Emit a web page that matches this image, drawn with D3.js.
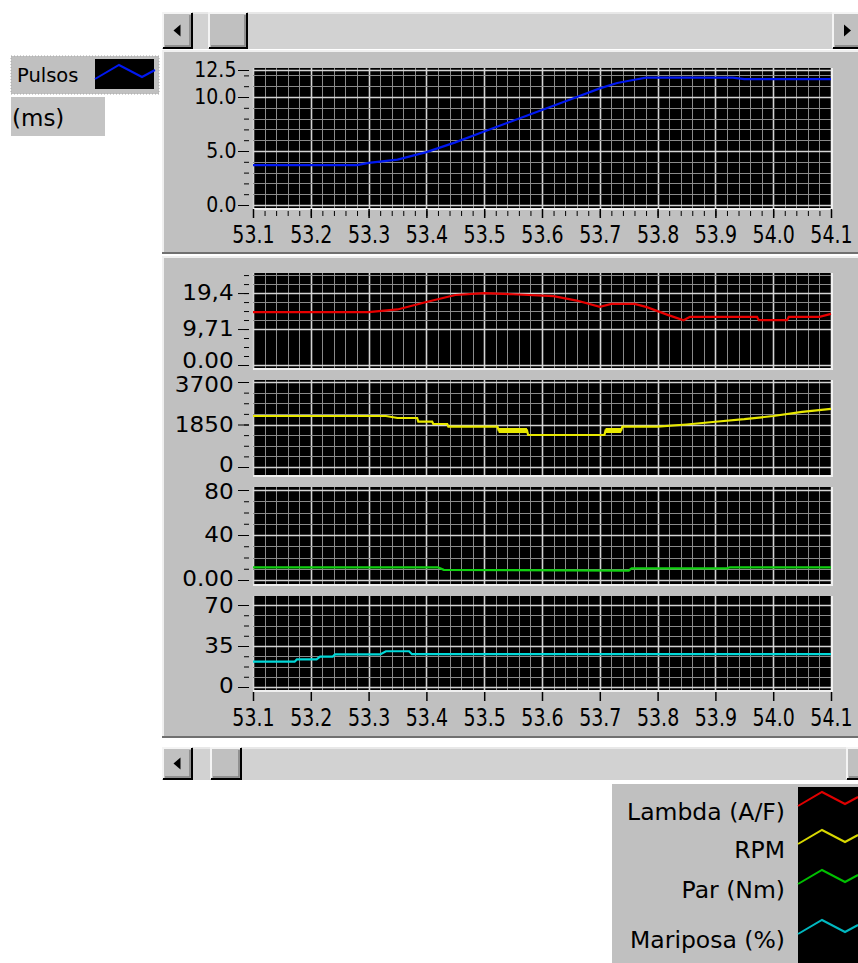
<!DOCTYPE html>
<html>
<head>
<meta charset="utf-8">
<script src="https://cdn.jsdelivr.net/npm/d3@7"></script>
<style>
  body { margin: 0; background: #fff; }
  svg { display: block; }
  text { font-family: "DejaVu Sans", sans-serif; fill: #000; }
</style>
</head>
<body>
<svg id="chart" width="858" height="963"></svg>
<script>
// ---- data ----
const timeTicks = [53.1, 53.2, 53.3, 53.4, 53.5, 53.6, 53.7, 53.8, 53.9, 54.0, 54.1];
const timeLabels = ["53.1", "53.2", "53.3", "53.4", "53.5", "53.6", "53.7", "53.8", "53.9", "54.0", "54.1"];

const pulsosTime = [53.10, 53.28, 53.30, 53.35, 53.40, 53.45, 53.50, 53.55, 53.60, 53.65, 53.70, 53.73, 53.76, 53.78, 53.93, 53.95, 54.10];
const pulsosValues = [3.7, 3.7, 3.9, 4.2, 4.9, 5.8, 6.8, 7.8, 8.8, 9.8, 10.8, 11.3, 11.6, 11.8, 11.8, 11.65, 11.65];
const pulsosTicks = [0, 5, 10, 12.5];
const pulsosLabels = ["0.0", "5.0", "10.0", "12.5"];

const lambdaTime = [53.10, 53.30, 53.35, 53.40, 53.45, 53.50, 53.55, 53.62, 53.66, 53.70, 53.72, 53.76, 53.78, 53.82, 53.845, 53.856, 53.972, 53.975, 54.024, 54.027, 54.08, 54.10];
const lambdaValues = [14.3, 14.3, 15.0, 17.0, 18.9, 19.4, 19.1, 18.6, 17.4, 15.7, 16.5, 16.5, 15.7, 13.4, 12.1, 13.0, 13.0, 12.1, 12.1, 13.0, 13.0, 13.8];
const lambdaTicks = [0, 9.71, 19.42];
const lambdaLabels = ["0.00", "9,71", "19,4"];

const rpmTime = [53.10, 53.33, 53.35, 53.384, 53.386, 53.41, 53.412, 53.436, 53.438, 53.523, 53.525, 53.574, 53.576, 53.708, 53.71, 53.737, 53.739, 53.80, 53.85, 53.90, 53.95, 54.00, 54.05, 54.10];
const rpmValues = [2220, 2220, 2133, 2133, 1972, 1972, 1872, 1872, 1754, 1754, 1590, 1590, 1393, 1393, 1590, 1590, 1754, 1754, 1850, 1970, 2080, 2220, 2400, 2530];
const rpmHeavy = [[53.525, 53.574, 1590], [53.71, 53.737, 1590]];
const rpmTicks = [0, 1850, 3700];
const rpmLabels = ["0", "1850", "3700"];

const parTime = [53.10, 53.42, 53.43, 53.75, 53.755, 53.92, 53.925, 54.10];
const parValues = [11.3, 11.3, 9.0, 8.4, 10.4, 10.4, 11.3, 11.3];
const parTicks = [0, 40, 80];
const parLabels = ["0.00", "40", "80"];

const mariposaTime = [53.10, 53.172, 53.176, 53.21, 53.216, 53.238, 53.242, 53.32, 53.33, 53.37, 53.375, 54.10];
const mariposaValues = [21.6, 21.6, 23.6, 23.6, 25.9, 25.9, 27.8, 27.8, 30.5, 30.5, 28.0, 28.0];
const mariposaTicks = [0, 35, 70];
const mariposaLabels = ["0", "35", "70"];

const legendNames = ["Lambda (A/F)", "RPM", "Par (Nm)", "Mariposa (%)"];
const legendColors = ["#e00000", "#d8d800", "#00c000", "#00b8c0"];

// ---- layout ----
const svg = d3.select('#chart');
const X0 = 253, X1 = 831;
const x = d3.scaleLinear().domain([53.1, 54.1]).range([X0, X1]);
const minorTimes = d3.range(0, 51).map(i => 53.1 + i * 0.02);

function button(g, bx, by, w, h, dir) {
    g.append('rect').attr('x', bx).attr('y', by).attr('width', w).attr('height', h).attr('fill', '#c0c0c0');
    g.append('path')
        .attr('d', `M${bx + 1},${by + h - 1}V${by + 1}H${bx + w - 1}`)
        .attr('stroke', '#f4f4f4').attr('stroke-width', 2).attr('fill', 'none');
    g.append('path')
        .attr('d', `M${bx + 1},${by + h - 1}H${bx + w - 1}V${by + 1}`)
        .attr('stroke', '#000').attr('stroke-width', 2).attr('fill', 'none');
    g.append('path')
        .attr('d', `M${bx + 3},${by + h - 3}H${bx + w - 3}V${by + 3}`)
        .attr('stroke', '#808080').attr('stroke-width', 1.5).attr('fill', 'none');
    if (dir) {
        let cx = bx + w / 2, cy = by + h / 2;
        let d = dir < 0
            ? `M${cx - 4},${cy}L${cx + 3},${cy - 6}V${cy + 6}Z`
            : `M${cx + 4},${cy}L${cx - 3},${cy - 6}V${cy + 6}Z`;
        g.append('path').attr('d', d).attr('fill', '#000');
    }
}

function scrollbar(sy, h, thumbX, thumbW, rightX) {
    let g = svg.append('g');
    g.append('rect').attr('x', 162).attr('y', sy).attr('width', 696).attr('height', h).attr('fill', '#d2d2d2');
    g.append('line').attr('x1', 162).attr('x2', 858).attr('y1', sy + 1).attr('y2', sy + 1)
        .attr('stroke', '#e8e8e8').attr('stroke-width', 2);
    button(g, 162, sy, 31, h, -1);
    button(g, thumbX, sy, thumbW, h, 0);
    button(g, rightX, sy, 30, h, 1);
}

function panel(py, h) {
    let g = svg.append('g');
    g.append('rect').attr('x', 162).attr('y', py).attr('width', 696).attr('height', h).attr('fill', '#c0c0c0');
    g.append('line').attr('x1', 163).attr('x2', 163).attr('y1', py).attr('y2', py + h)
        .attr('stroke', '#f0f0f0').attr('stroke-width', 2);
    g.append('line').attr('x1', 162).attr('x2', 858).attr('y1', py + 1).attr('y2', py + 1)
        .attr('stroke', '#f0f0f0').attr('stroke-width', 2);
    g.append('line').attr('x1', 162).attr('x2', 858).attr('y1', py + h - 1).attr('y2', py + h - 1)
        .attr('stroke', '#707070').attr('stroke-width', 2);
}

function drawPlot(p) {
    let g = svg.append('g');
    let y = d3.scaleLinear().domain(p.domain).range(p.range);

    g.append('rect')
        .attr('x', X0).attr('y', p.top)
        .attr('width', X1 - X0).attr('height', p.bottom - p.top)
        .attr('fill', '#000');

    // vertical grid, brighter every 0.1
    g.selectAll('line.vg')
        .data(minorTimes)
        .join('line')
            .attr('class', 'vg')
            .attr('x1', d => Math.round(x(d)) + 0.5)
            .attr('x2', d => Math.round(x(d)) + 0.5)
            .attr('y1', p.top).attr('y2', p.bottom)
            .attr('stroke', (d, i) => i % 5 === 0 ? '#d4d4d4' : '#8a8a8a')
            .attr('stroke-width', (d, i) => i % 5 === 0 ? 1.6 : 1);

    // horizontal grid
    g.selectAll('line.hg')
        .data(p.gridMinor)
        .join('line')
            .attr('class', 'hg')
            .attr('x1', X0).attr('x2', X1)
            .attr('y1', d => Math.round(y(d)) + 0.5)
            .attr('y2', d => Math.round(y(d)) + 0.5)
            .attr('stroke', '#8a8a8a');

    g.selectAll('line.hm')
        .data(p.ticks)
        .join('line')
            .attr('class', 'hm')
            .attr('x1', X0).attr('x2', X1)
            .attr('y1', d => Math.round(y(d)) + 0.5)
            .attr('y2', d => Math.round(y(d)) + 0.5)
            .attr('stroke', '#d4d4d4')
            .attr('stroke-width', 1.6);

    // inset edge
    g.append('path')
        .attr('d', `M${X0},${p.bottom + 1}H${X1 + 1}V${p.top}`)
        .attr('stroke', '#f0f0f0').attr('stroke-width', 2).attr('fill', 'none');

    // y axis: minor dashes then labelled ticks
    let minorAxis = d3.axisLeft(y).tickValues(p.tickMinor).tickSize(5).tickFormat('');
    g.append('g').attr('transform', `translate(${X0 - 4},0)`).call(minorAxis)
        .call(a => a.select('.domain').remove());

    let yAxis = d3.axisLeft(y)
        .tickValues(p.ticks)
        .tickSize(11)
        .tickPadding(3)
        .tickFormat((d, i) => p.labels[i]);
    let ya = g.append('g').attr('transform', `translate(${X0 - 4},0)`).call(yAxis);
    ya.select('.domain').remove();
    ya.selectAll('text')
        .attr('font-family', '"DejaVu Sans", sans-serif')
        .attr('font-size', p.fontSize)
        .attr('fill', '#000')
        .attr('transform', (d, i) => `translate(0,${p.labelShift ? p.labelShift[i] : 0}) scale(${p.squeeze},1)`);
    ya.selectAll('line').attr('stroke', '#000');

    // series
    let pts = p.time.map((t, i) => [t, p.values[i]]);
    let line = d3.line().x(d => x(d[0])).y(d => y(d[1]));
    g.append('path')
        .datum(pts)
        .attr('d', line)
        .attr('fill', 'none')
        .attr('stroke', p.color)
        .attr('stroke-width', 2.2);

    if (p.heavy) {
        g.selectAll('path.heavy')
            .data(p.heavy)
            .join('path')
                .attr('class', 'heavy')
                .attr('d', d => line([[d[0], d[2]], [d[1], d[2]]]))
                .attr('stroke', p.color)
                .attr('stroke-width', 5);
    }
    return g;
}

function timeAxis(ty, withMinor) {
    if (withMinor) {
        let minorAxis = d3.axisBottom(x).tickValues(minorTimes).tickSize(5).tickFormat('');
        svg.append('g').attr('transform', `translate(0,${ty + 2})`).call(minorAxis)
            .call(a => a.select('.domain').remove());
    }
    let axis = d3.axisBottom(x)
        .tickValues(timeTicks)
        .tickSize(9)
        .tickPadding(7)
        .tickFormat((d, i) => timeLabels[i]);
    let a = svg.append('g').attr('transform', `translate(0,${ty})`).call(axis);
    a.select('.domain').remove();
    a.selectAll('line').attr('stroke', '#000').attr('stroke-width', 1.5);
    a.selectAll('text')
        .attr('font-family', '"DejaVu Sans", sans-serif')
        .attr('font-size', 25)
        .attr('fill', '#000')
        .attr('transform', 'scale(0.76,1)');
}

// ---- frames ----
scrollbar(12, 37, 208, 40, 832);
panel(50, 204);
panel(256, 482);
scrollbar(747, 33, 210, 32, 846);

// ---- top chart ----
drawPlot({
    top: 68, bottom: 208,
    domain: [0, 12.5], range: [205, 70],
    ticks: pulsosTicks, labels: pulsosLabels,
    tickMinor: d3.range(0, 13, 1),
    gridMinor: d3.range(1, 13, 1),
    fontSize: 21, squeeze: 0.9,
    time: pulsosTime, values: pulsosValues, color: '#0018f0'
});
timeAxis(209, true);

// ---- stacked lower charts ----
drawPlot({
    top: 273, bottom: 368,
    domain: [0, 24.3], range: [365, 275],
    ticks: lambdaTicks, labels: lambdaLabels,
    tickMinor: d3.range(0, 11).map(i => i * 9.71 / 4),
    gridMinor: d3.range(5, 11).map(i => i * 9.71 / 4),
    fontSize: 21, squeeze: 1.1, labelShift: [-4, 0, 0],
    time: lambdaTime, values: lambdaValues, color: '#e80000'
});
drawPlot({
    top: 380, bottom: 475,
    domain: [0, 3700], range: [467, 382],
    ticks: rpmTicks, labels: rpmLabels,
    tickMinor: d3.range(0, 9).map(i => i * 462.5),
    gridMinor: d3.range(0, 9).map(i => i * 462.5),
    fontSize: 21, squeeze: 1.1, labelShift: [-2, 0, 3],
    time: rpmTime, values: rpmValues, color: '#e8e800',
    heavy: rpmHeavy
});
drawPlot({
    top: 487, bottom: 584,
    domain: [0, 80], range: [580, 490],
    ticks: parTicks, labels: parLabels,
    tickMinor: d3.range(0, 9).map(i => i * 10),
    gridMinor: d3.range(0, 9).map(i => i * 10),
    fontSize: 21, squeeze: 1.1, labelShift: [-1, 0, 2],
    time: parTime, values: parValues, color: '#10d010'
});
drawPlot({
    top: 596, bottom: 690,
    domain: [0, 70], range: [687, 605],
    ticks: mariposaTicks, labels: mariposaLabels,
    tickMinor: d3.range(0, 9).map(i => i * 8.75),
    gridMinor: d3.range(0, 9).map(i => i * 8.75),
    fontSize: 21, squeeze: 1.1, labelShift: [-1, 0, 1],
    time: mariposaTime, values: mariposaValues, color: '#00d8d8'
});
timeAxis(692, false);

// ---- legends ----
function zigzag(g, sx, sy, color) {
    let pts = [[0, 14], [24, 0], [47, 12], [60, 5]];
    g.append('path')
        .attr('d', d3.line()(pts.map(d => [sx + d[0], sy + d[1]])))
        .attr('fill', 'none')
        .attr('stroke', color)
        .attr('stroke-width', 2);
}

let topLegend = svg.append('g');
topLegend.append('rect').attr('x', 11).attr('y', 56).attr('width', 148).attr('height', 38)
    .attr('fill', '#c0c0c0').attr('stroke', '#a8a8a8').attr('stroke-dasharray', '1,2');
topLegend.append('rect').attr('x', 95).attr('y', 59).attr('width', 59).attr('height', 30).attr('fill', '#000');
zigzag(topLegend, 95, 65, '#0018f0');
topLegend.append('text').attr('x', 17).attr('y', 82).attr('font-size', 19.5).text('Pulsos');
topLegend.append('rect').attr('x', 11).attr('y', 97).attr('width', 94).attr('height', 39).attr('fill', '#c4c4c4');
topLegend.append('text').attr('x', 12).attr('y', 126).attr('font-size', 23).text('(ms)');

let legend = svg.append('g');
legend.append('rect').attr('x', 612).attr('y', 784).attr('width', 246).attr('height', 179).attr('fill', '#c0c0c0');
legend.append('rect').attr('x', 798).attr('y', 787).attr('width', 60).attr('height', 176).attr('fill', '#000');
const legendY = [820, 858, 898, 948];
legendNames.forEach((name, i) => {
    legend.append('text')
        .attr('x', 785).attr('y', legendY[i])
        .attr('text-anchor', 'end')
        .attr('font-size', 23.5)
        .text(name);
    zigzag(legend, 798, legendY[i] - 28, legendColors[i]);
});
</script>
</body>
</html>
